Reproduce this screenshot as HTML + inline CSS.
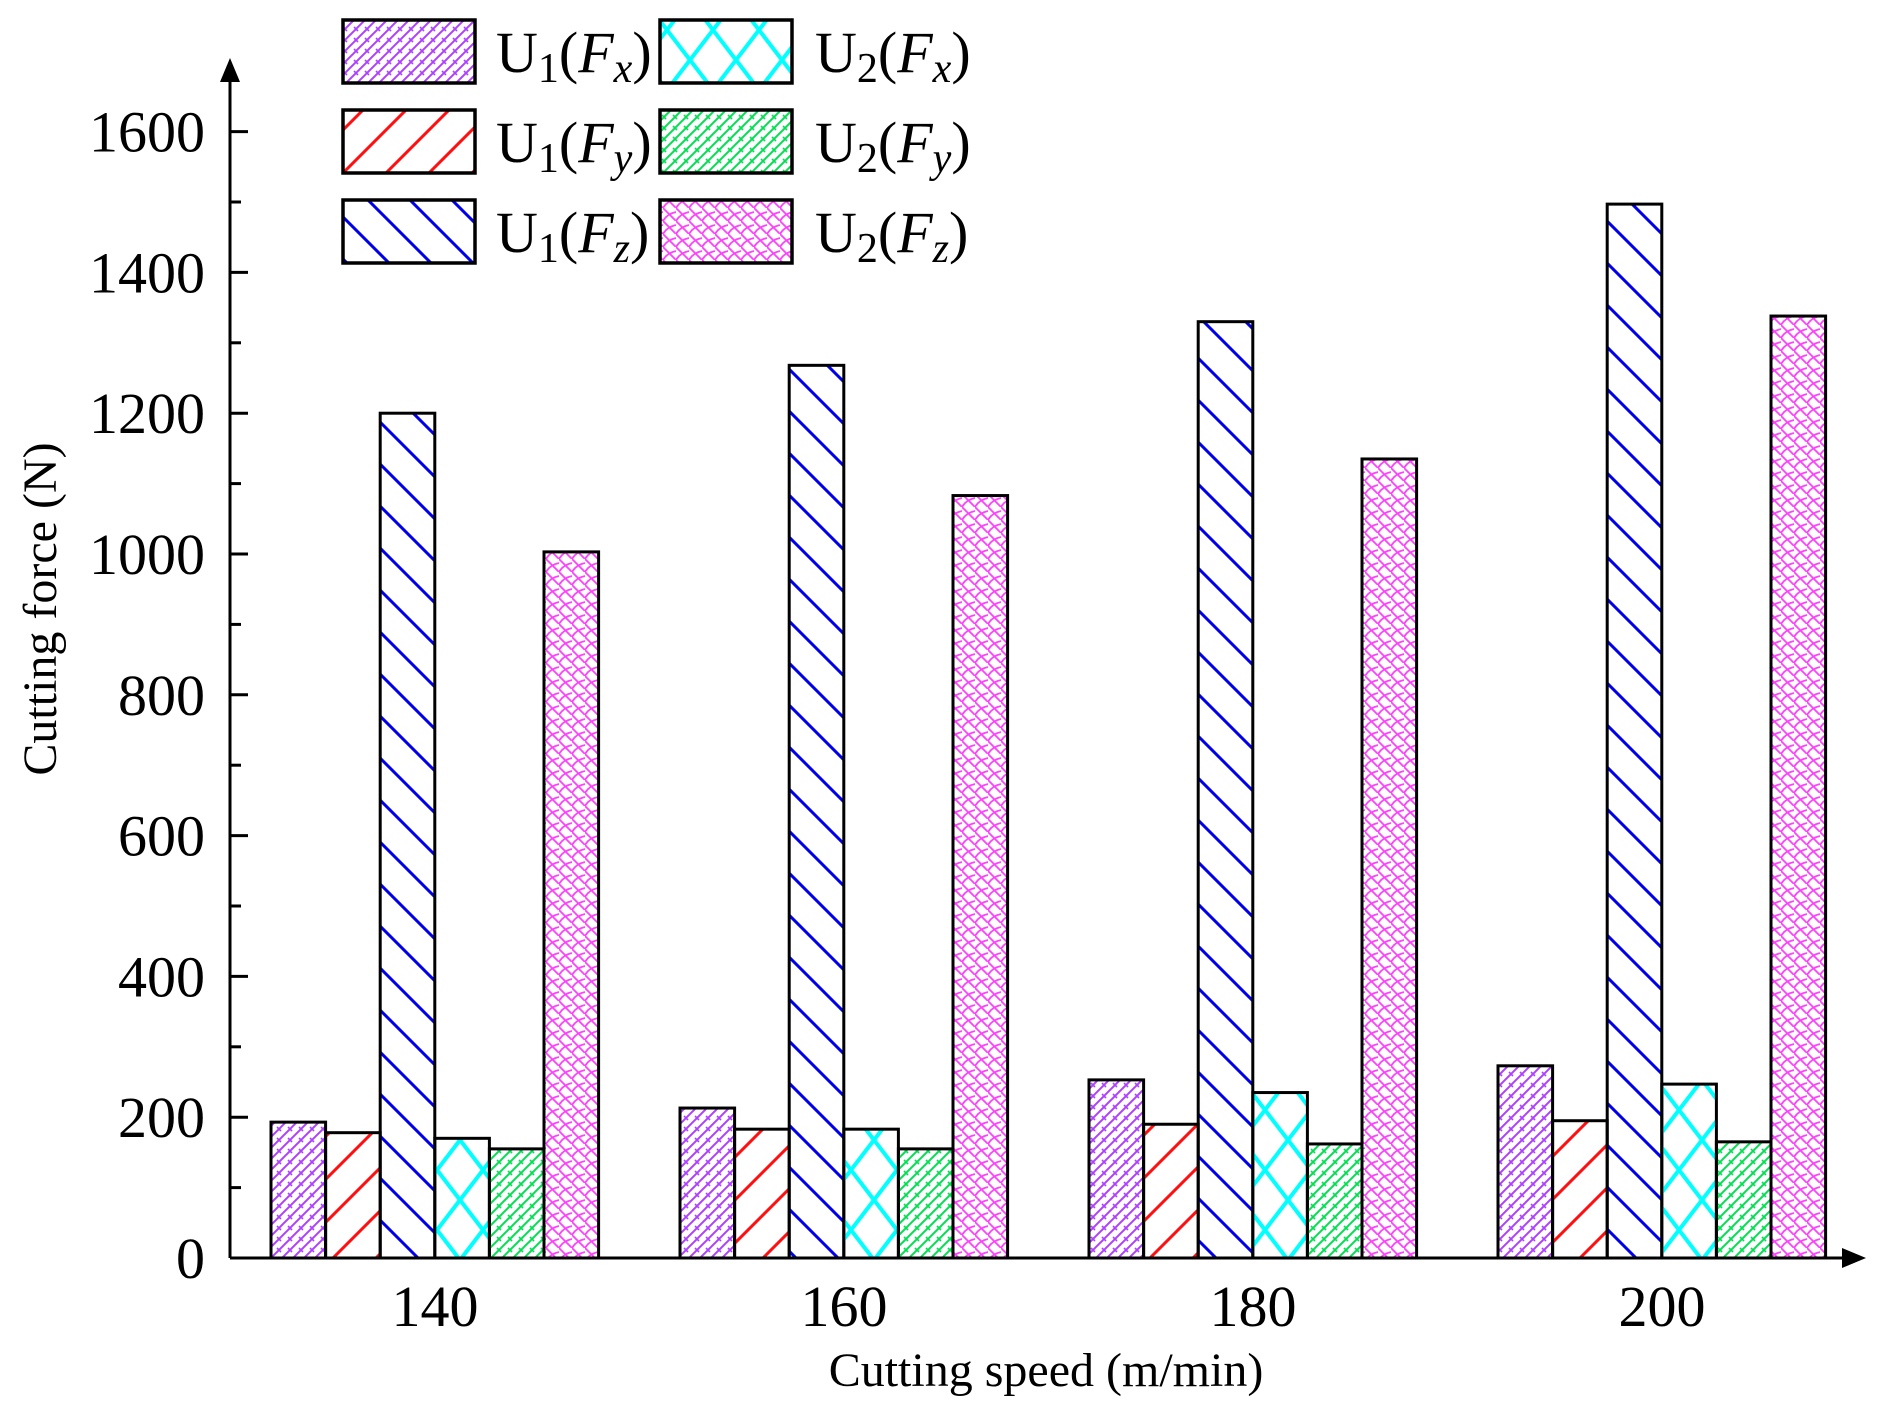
<!DOCTYPE html>
<html><head><meta charset="utf-8"><style>html,body{margin:0;padding:0;background:#fff}svg{display:block}text{font-family:"Liberation Serif",serif;fill:#000}</style></head><body>
<svg width="1886" height="1418" viewBox="0 0 1886 1418" xmlns="http://www.w3.org/2000/svg">
<defs>
<pattern id="pp" patternUnits="userSpaceOnUse" width="11" height="11"><path d="M0 11 L11 0 M-2 2 L2 -2 M9 13 L13 9" stroke="#b040ff" stroke-width="2"/><path d="M2 5 L6 9" stroke="#b040ff" stroke-width="1.6"/></pattern>
<pattern id="pr" patternUnits="userSpaceOnUse" width="43" height="43"><path d="M0 43 L43 0 M-5 5 L5 -5 M38 48 L48 38" stroke="#ff1010" stroke-width="3"/></pattern>
<pattern id="pb" patternUnits="userSpaceOnUse" width="42" height="42"><path d="M0 0 L42 42 M-5 37 L5 47 M37 -5 L47 5" stroke="#0000ee" stroke-width="3"/></pattern>
<pattern id="pc" patternUnits="userSpaceOnUse" width="46" height="60"><path d="M0 0 L46 60 M46 0 L0 60" stroke="#00ffff" stroke-width="4"/></pattern>
<pattern id="pg" patternUnits="userSpaceOnUse" width="11" height="11"><path d="M0 11 L11 0 M-2 2 L2 -2 M9 13 L13 9" stroke="#00e050" stroke-width="2"/><path d="M2 5 L6 9" stroke="#00e050" stroke-width="1.6"/></pattern>
<pattern id="pm" patternUnits="userSpaceOnUse" width="13" height="13"><path d="M0 0 L13 13 M0 13 Q4 6 13 4" stroke="#ff40ff" stroke-width="1.8" fill="none"/></pattern>
</defs>
<g stroke="#000" stroke-width="3">
<line x1="230" y1="1258" x2="1850" y2="1258"/>
<line x1="230" y1="1258" x2="230" y2="75"/>
</g>
<polygon points="230,58 220,82 240,82" fill="#000"/>
<polygon points="1866,1258 1842,1248 1842,1268" fill="#000"/>
<g id="bars" stroke="#000" stroke-width="3"></g>
<g id="ticks" stroke="#000" stroke-width="3"></g>
<g id="lbl" font-size="58" text-anchor="end"></g>
<g font-size="58" text-anchor="middle">
<text x="435" y="1326">140</text><text x="844" y="1326">160</text><text x="1253" y="1326">180</text><text x="1662" y="1326">200</text>
</g>
<text x="1046" y="1386" font-size="48" text-anchor="middle">Cutting speed (m/min)</text>
<text transform="translate(56,609) rotate(-90)" font-size="48" text-anchor="middle">Cutting force (N)</text>
<g stroke="#000" stroke-width="3.5">
<rect x="343" y="20" width="132" height="63" fill="url(#pp)"/>
<rect x="343" y="110" width="132" height="63" fill="url(#pr)"/>
<rect x="343" y="200" width="132" height="63" fill="url(#pb)"/>
<rect x="660" y="20" width="132" height="63" fill="url(#pc)"/>
<rect x="660" y="110" width="132" height="63" fill="url(#pg)"/>
<rect x="660" y="200" width="132" height="63" fill="url(#pm)"/>
</g>
<g font-size="58">
<text x="496" y="72">U<tspan font-size="42" dy="10">1</tspan><tspan dy="-10">(</tspan><tspan font-style="italic">F</tspan><tspan font-size="42" font-style="italic" dy="10">x</tspan><tspan dy="-10">)</tspan></text>
<text x="496" y="162">U<tspan font-size="42" dy="10">1</tspan><tspan dy="-10">(</tspan><tspan font-style="italic">F</tspan><tspan font-size="42" font-style="italic" dy="10">y</tspan><tspan dy="-10">)</tspan></text>
<text x="496" y="252">U<tspan font-size="42" dy="10">1</tspan><tspan dy="-10">(</tspan><tspan font-style="italic">F</tspan><tspan font-size="42" font-style="italic" dy="10">z</tspan><tspan dy="-10">)</tspan></text>
<text x="815" y="72">U<tspan font-size="42" dy="10">2</tspan><tspan dy="-10">(</tspan><tspan font-style="italic">F</tspan><tspan font-size="42" font-style="italic" dy="10">x</tspan><tspan dy="-10">)</tspan></text>
<text x="815" y="162">U<tspan font-size="42" dy="10">2</tspan><tspan dy="-10">(</tspan><tspan font-style="italic">F</tspan><tspan font-size="42" font-style="italic" dy="10">y</tspan><tspan dy="-10">)</tspan></text>
<text x="815" y="252">U<tspan font-size="42" dy="10">2</tspan><tspan dy="-10">(</tspan><tspan font-style="italic">F</tspan><tspan font-size="42" font-style="italic" dy="10">z</tspan><tspan dy="-10">)</tspan></text>
</g>
<script>
var NS="http://www.w3.org/2000/svg";
var data=[[193,178,1200,170,155,1003],[213,183,1268,183,155,1083],[253,190,1330,235,162,1135],[273,195,1497,247,165,1338]];
var fills=["pp","pr","pb","pc","pg","pm"];
var k=0.704,base=1258,bw=54.6;
var g=document.getElementById("bars");
data.forEach(function(d,i){d.forEach(function(v,j){var r=document.createElementNS(NS,"rect");var x=271+i*409+j*bw;var h=v*k;r.setAttribute("x",x);r.setAttribute("y",base-h);r.setAttribute("width",bw);r.setAttribute("height",h);r.setAttribute("fill","url(#"+fills[j]+")");g.appendChild(r);});});
var t=document.getElementById("ticks"),l=document.getElementById("lbl");
for(var v=100;v<=1700;v+=100){var y=base-v*k;if(y<75)break;var ln=document.createElementNS(NS,"line");ln.setAttribute("x1",230);ln.setAttribute("x2",v%200==0?248:241);ln.setAttribute("y1",y);ln.setAttribute("y2",y);t.appendChild(ln);}
for(var v=0;v<=1600;v+=200){var y=base-v*k;var tx=document.createElementNS(NS,"text");tx.setAttribute("x",205);tx.setAttribute("y",y+20);tx.textContent=v;l.appendChild(tx);}
</script>
</svg>
</body></html>
